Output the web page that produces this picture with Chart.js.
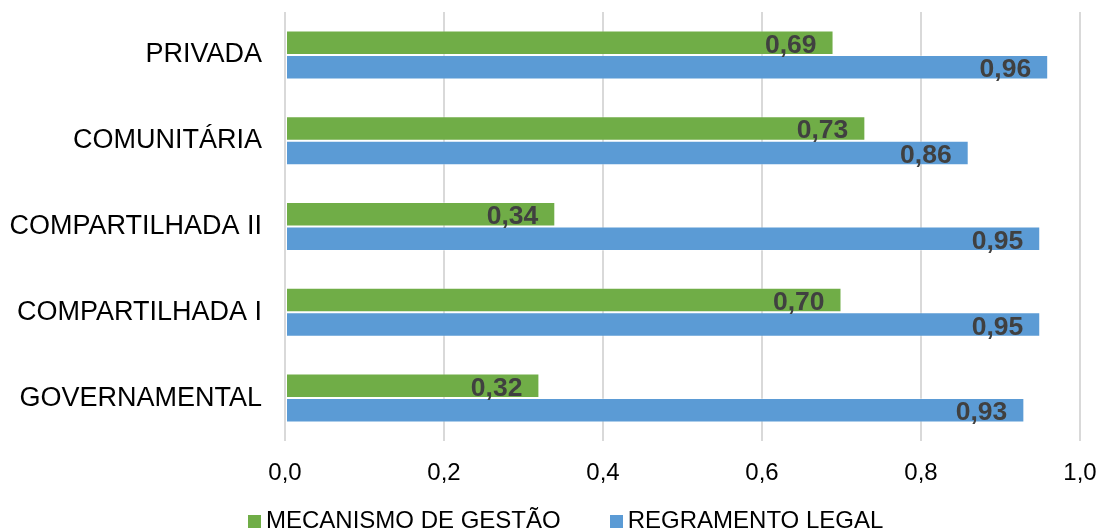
<!DOCTYPE html>
<html lang="pt-BR">
<head>
<meta charset="utf-8">
<script src="https://cdn.jsdelivr.net/npm/chart.js@4.4.1/dist/chart.umd.min.js"></script>
<style>
  html, body { margin: 0; padding: 0; background: #fff; overflow: hidden; }
  #wrap { position: relative; width: 1104px; height: 532px; }
  #legend {
    position: absolute; left: 248px; top: 508px;
    display: flex; font-family: "Liberation Sans", Arial, sans-serif;
    font-size: 24px; line-height: 24px; color: #000; white-space: nowrap;
  }
  #legend .item { display: flex; align-items: flex-start; margin-right: 49px; }
  #legend .box { width: 13px; height: 13px; margin-top: 7px; margin-right: 5px; }
</style>
</head>
<body>
<div id="wrap">
  <canvas id="chart" width="1104" height="532"></canvas>
  <div id="legend"></div>
</div>
<script>
// Tipos de gestão (de cima para baixo)
const categories = ['PRIVADA', 'COMUNITÁRIA', 'COMPARTILHADA II', 'COMPARTILHADA I', 'GOVERNAMENTAL'];
const seriesNames = ['MECANISMO DE GESTÃO', 'REGRAMENTO LEGAL'];
const mecanismoGestao = [0.69, 0.73, 0.34, 0.70, 0.32];
const regramentoLegal = [0.96, 0.86, 0.95, 0.95, 0.93];
const xTicks = [0.0, 0.2, 0.4, 0.6, 0.8, 1.0];
const seriesColors = ['#70AD47', '#5B9BD5'];

const FONT = '"Liberation Sans", Arial, sans-serif';
const fmt = (v, d) => v.toFixed(d).replace('.', ',');

// Sem folga extra para rótulos que ultrapassam as bordas da área do gráfico
const noLabelPadding = (scale) => {
  scale.paddingTop = 0;
  scale.paddingBottom = 0;
  scale.paddingLeft = 0;
  scale.paddingRight = 0;
};

// Rótulos de valor na extremidade interna de cada barra
const valueLabels = {
  id: 'valueLabels',
  afterDatasetsDraw(chart) {
    const ctx = chart.ctx;
    ctx.save();
    ctx.font = 'bold 26.5px ' + FONT;
    ctx.fillStyle = '#404040';
    ctx.textAlign = 'right';
    ctx.textBaseline = 'alphabetic';
    chart.data.datasets.forEach((ds, i) => {
      chart.getDatasetMeta(i).data.forEach((bar, j) => {
        ctx.fillText(fmt(ds.data[j], 2), bar.x - 17, bar.y + 10);
      });
    });
    ctx.restore();
  }
};

const data = {
  labels: categories,
  datasets: [
    { label: seriesNames[0], data: mecanismoGestao, backgroundColor: seriesColors[0] },
    { label: seriesNames[1], data: regramentoLegal, backgroundColor: seriesColors[1] }
  ]
};

const chart = new Chart(document.getElementById('chart'), {
  type: 'bar',
  data,
  options: {
    indexAxis: 'y',
    responsive: false,
    animation: false,
    events: [],
    layout: { padding: { top: 12, right: 24, bottom: 41, left: 0 } },
    datasets: {
      bar: {
        categoryPercentage: 0.571,
        barPercentage: 1.0,
        borderWidth: 1,
        borderColor: 'rgba(255,255,255,0.3)',
        borderSkipped: false
      }
    },
    scales: {
      x: {
        min: 0, max: 1,
        afterBuildTicks: (scale) => { scale.ticks = xTicks.map(v => ({ value: v })); },
        afterFit: (scale) => { scale.height = 50; noLabelPadding(scale); },
        grid: { color: '#D9D9D9', lineWidth: 2, drawTicks: false },
        border: { display: false },
        ticks: {
          padding: 18,
          color: '#000',
          font: { family: FONT, size: 24 },
          callback: (v) => fmt(v, 1)
        }
      },
      y: {
        afterFit: (scale) => { scale.width = 285; noLabelPadding(scale); },
        grid: { display: false, drawTicks: false },
        border: { display: false },
        ticks: {
          padding: 23,
          color: '#000',
          font: { family: FONT, size: 27 }
        }
      }
    },
    plugins: {
      legend: { display: false },
      tooltip: { enabled: false }
    }
  },
  plugins: [valueLabels]
});

// Legenda
const legend = document.getElementById('legend');
data.datasets.forEach((ds) => {
  const item = document.createElement('div');
  item.className = 'item';
  const box = document.createElement('span');
  box.className = 'box';
  box.style.background = ds.backgroundColor;
  const txt = document.createElement('span');
  txt.textContent = ds.label;
  item.appendChild(box);
  item.appendChild(txt);
  legend.appendChild(item);
});
</script>
</body>
</html>
